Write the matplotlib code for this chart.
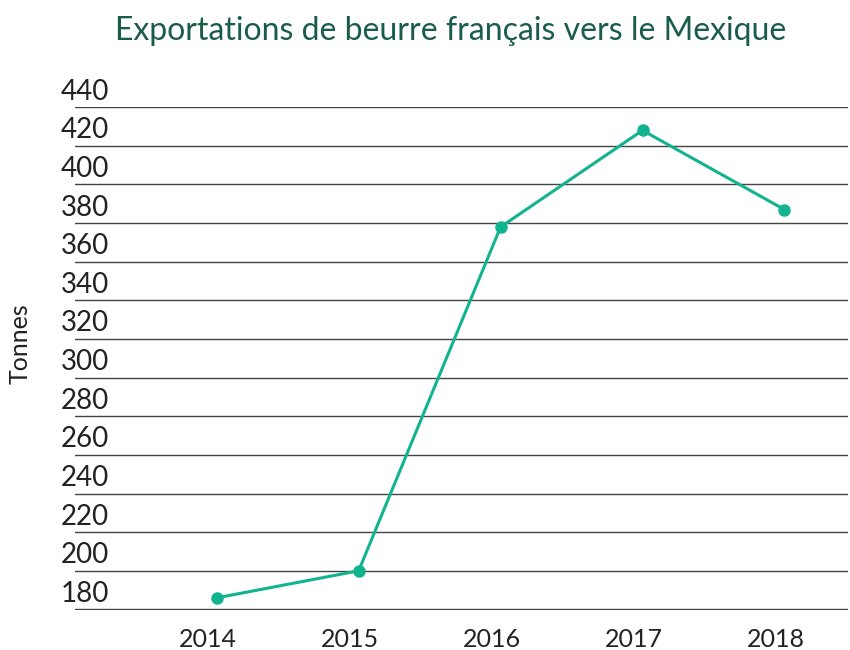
import matplotlib
matplotlib.use("Agg")
import matplotlib.pyplot as plt
import matplotlib.transforms as mtransforms

annees = ["2014", "2015", "2016", "2017", "2018"]
tonnes = [186, 200, 378, 428, 387]
y_ticks = list(range(180, 441, 20))

plt.rcParams['font.family'] = ['Lato', 'DejaVu Sans']

fig = plt.figure(figsize=(8.5, 6.5), dpi=100)
ax = fig.add_axes([0.088, 0.0615, 0.91, 0.7745])

x = list(range(len(annees)))
ax.plot(x, tonnes, color='#12b48f', lw=2.2, marker='o', ms=8, zorder=3)

ax.set_xlim(-1.0, 4.45)
ax.set_ylim(179.7, 440.3)
ax.set_yticks(y_ticks)
ax.set_xticks(x)
ax.set_xticklabels(annees)
ax.grid(axis='y', color='#444444', lw=1)
ax.set_axisbelow(True)
for s in ax.spines.values():
    s.set_visible(False)

ax.tick_params(axis='y', length=0, pad=0, labelsize=20, labelcolor='#222222')
ax.tick_params(axis='x', length=0, pad=13, labelsize=18, labelcolor='#222222')

# labels sit above the gridlines, inside the plot
off_y = mtransforms.ScaledTranslation(34 / 100, 18 / 100, fig.dpi_scale_trans)
for lab in ax.get_yticklabels():
    lab.set_transform(lab.get_transform() + off_y)
off_x = mtransforms.ScaledTranslation(-9 / 100, 0, fig.dpi_scale_trans)
for lab in ax.get_xticklabels():
    lab.set_transform(lab.get_transform() + off_x)

fig.text(0.024, 0.472, "Tonnes", rotation=90, ha='center', va='center',
         fontsize=18, color='#222222')
fig.text(0.53, 0.953, "Exportations de beurre français vers le Mexique",
         ha='center', va='center', fontsize=23, color='#1a5c4c')

fig.savefig("out.png", dpi=100)
